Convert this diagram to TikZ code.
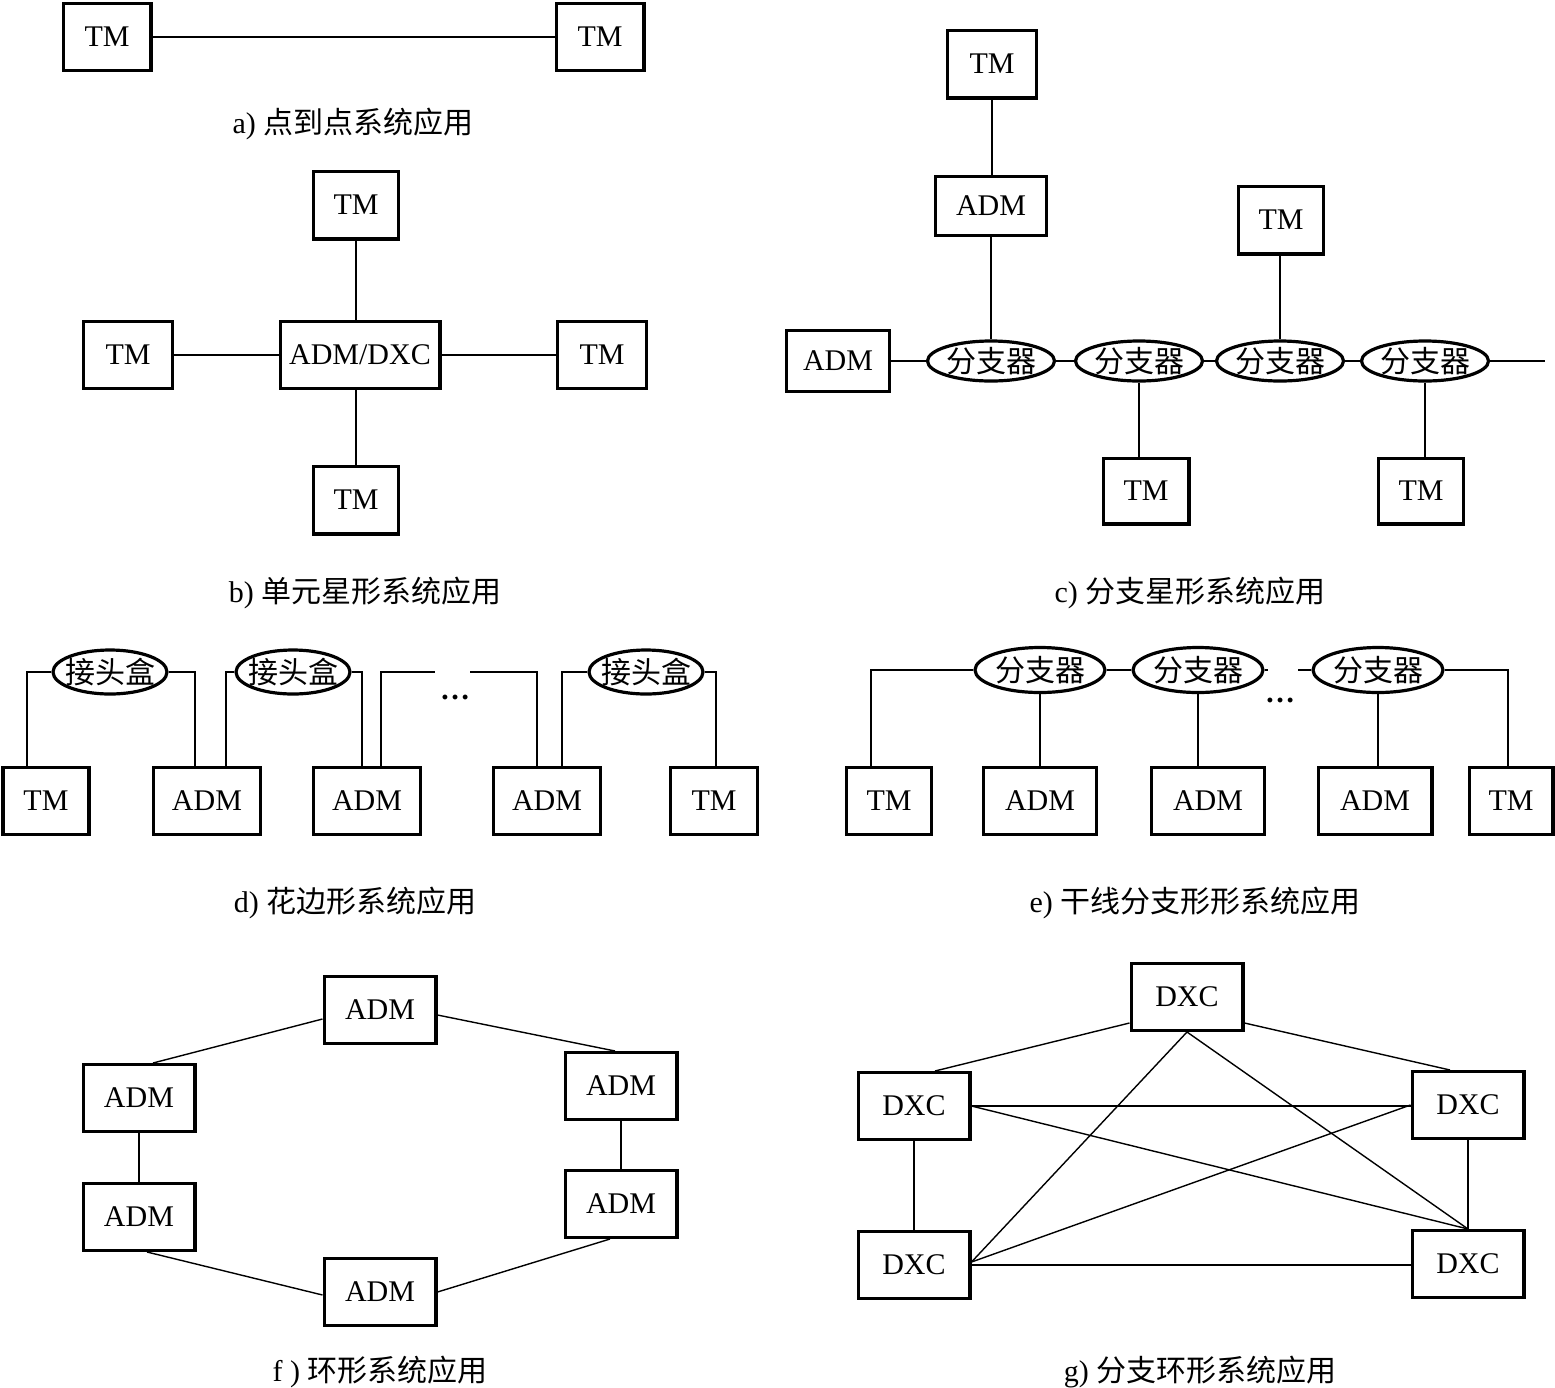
\documentclass[tikz,border=0pt]{standalone}
\usepackage{fontspec}
\setmainfont{Liberation Serif}
\newfontfamily\cjk{Noto Sans CJK SC}
\usetikzlibrary{shapes.geometric,calc}
\begin{document}
\begin{tikzpicture}[x=0.5pt,y=-0.5pt,
  box/.style={draw,line width=1.6pt,inner sep=0pt,font=\fontsize{15}{18}\selectfont},
  sz/.style 2 args={minimum width={(#1)*0.5pt-1.6pt},minimum height={(#2)*0.5pt-1.6pt}},
  ln/.style={line width=0.7pt},
  ell/.style={draw,ellipse,line width=1.6pt,inner sep=0pt},
  lab/.style={label={[font=\fontsize{15}{18}\selectfont\cjk,inner sep=0pt]center:#1}},
  captxt/.style={font=\fontsize{15}{18}\selectfont,inner sep=0pt},
  dotsn/.style={font=\fontsize{15}{18}\selectfont,inner sep=0pt}]
\useasboundingbox (0,0) rectangle (1555,1388);

% ---------- a ----------
\node[box,sz={91}{70}] (a1) at (107,37) {TM};
\node[box,sz={91}{70}] (a2) at (600,37) {TM};
\draw[ln] (a1) -- (a2);
\node[captxt] (ca) at (353,124) {a) {\cjk 点到点系统应用}};

% ---------- b ----------
\node[box,sz={88}{71}] (b1) at (356,205) {TM};
\node[box,sz={92}{70}] (b2) at (128,355) {TM};
\node[box,sz={163}{70}] (b3) at (360,355) {ADM/DXC};
\node[box,sz={92}{70}] (b4) at (602,355) {TM};
\node[box,sz={88}{71}] (b5) at (356,500) {TM};
\draw[ln] (b1.south) -- (b1.south |- b3.north);
\draw[ln] (b2.east) -- (b3.west);
\draw[ln] (b3.east) -- (b4.west);
\draw[ln] (b5.north) -- (b5.north |- b3.south);
\node[captxt] (cb) at (365,593) {b) {\cjk 单元星形系统应用}};

% ---------- c ----------
\node[box,sz={92}{71}] (c1) at (992,64) {TM};
\node[box,sz={114}{62}] (c2) at (991,206) {ADM};
\node[box,sz={106}{64}] (c3) at (838,361) {ADM};
\node[ell,minimum width=63.5pt,minimum height=20pt,lab={分支器}] (cs1) at (991,361) {};
\node[ell,minimum width=63.5pt,minimum height=20pt,lab={分支器}] (cs2) at (1139,361) {};
\node[ell,minimum width=63.5pt,minimum height=20pt,lab={分支器}] (cs3) at (1280,361) {};
\node[ell,minimum width=63.5pt,minimum height=20pt,lab={分支器}] (cs4) at (1425,361) {};
\coordinate (cend) at (1545,361);
\node[box,sz={88}{71}] (c4) at (1281,220) {TM};
\node[box,sz={89}{69}] (c5) at (1146,491) {TM};
\node[box,sz={88}{69}] (c6) at (1421,491) {TM};
\draw[ln] (c1.south) -- (c1.south |- c2.north);
\draw[ln] (c2.south) -- (cs1.north);
\draw[ln] (c3.east) -- (cs1.west);
\draw[ln] (cs1.east) -- (cs2.west);
\draw[ln] (cs2.east) -- (cs3.west);
\draw[ln] (cs3.east) -- (cs4.west);
\draw[ln] (cs4.east) -- (cend);
\draw[ln] (cs3.north) -- (cs3.north |- c4.south);
\draw[ln] (cs2.south) -- (cs2.south |- c5.north);
\draw[ln] (cs4.south) -- (cs4.south |- c6.north);
\node[captxt] (cc) at (1190,593) {c) {\cjk 分支星形系统应用}};

% ---------- d ----------
\node[box,sz={89}{70}] (d1) at (46,801) {TM};
\node[box,sz={110}{70}] (d2) at (207,801) {ADM};
\node[box,sz={110}{70}] (d3) at (367,801) {ADM};
\node[box,sz={110}{70}] (d4) at (547,801) {ADM};
\node[box,sz={90}{70}] (d5) at (714,801) {TM};
\node[ell,minimum width=57pt,minimum height=22pt,lab={接头盒}] (dj1) at (110,672) {};
\node[ell,minimum width=57pt,minimum height=22pt,lab={接头盒}] (dj2) at (293,672) {};
\node[ell,minimum width=57pt,minimum height=22pt,lab={接头盒}] (dj3) at (646,672) {};
\coordinate (dg1) at (435,672);
\coordinate (dg2) at (470,672);
\draw[ln] ($(d1.north)+(-19,0)$) |- (dj1.west);
\draw[ln] (dj1.east) -| ($(d2.north)+(-12,0)$);
\draw[ln] ($(d2.north)+(19,0)$) |- (dj2.west);
\draw[ln] (dj2.east) -| ($(d3.north)+(-5,0)$);
\draw[ln] ($(d3.north)+(14,0)$) |- (dg1);
\draw[ln] (dg2) -| ($(d4.north)+(-10,0)$);
\draw[ln] ($(d4.north)+(15,0)$) |- (dj3.west);
\draw[ln] (dj3.east) -| ($(d5.north)+(2,0)$);
\node[dotsn] (dd) at (455,697) {\textbf{…}};
\node[captxt] (cd) at (355,903) {d) {\cjk 花边形系统应用}};

% ---------- e ----------
\node[box,sz={88}{70}] (e1) at (889,801) {TM};
\node[box,sz={116}{70}] (e2) at (1040,801) {ADM};
\node[box,sz={116}{70}] (e3) at (1208,801) {ADM};
\node[box,sz={117}{70}] (e4) at (1375,801) {ADM};
\node[box,sz={87}{70}] (e5) at (1511,801) {TM};
\node[ell,minimum width=65pt,minimum height=22.5pt,lab={分支器}] (es1) at (1040,670) {};
\node[ell,minimum width=65pt,minimum height=22.5pt,lab={分支器}] (es2) at (1198,670) {};
\node[ell,minimum width=65pt,minimum height=22.5pt,lab={分支器}] (es3) at (1378,670) {};
\coordinate (eg1) at (1268,670);
\coordinate (eg2) at (1298,670);
\draw[ln] ($(e1.north)+(-18,0)$) |- (es1.west);
\draw[ln] (es1.east) -- (es2.west);
\draw[ln] (es2.east) -- (eg1);
\draw[ln] (eg2) -- (es3.west);
\draw[ln] (es3.east) -| ($(e5.north)+(-3,0)$);
\draw[ln] (es1.south) -- (es1.south |- e2.north);
\draw[ln] (es2.south) -- (es2.south |- e3.north);
\draw[ln] (es3.south) -- (es3.south |- e4.north);
\node[dotsn] (ed) at (1280,700) {\textbf{…}};
\node[captxt] (ce) at (1195,903) {e) {\cjk 干线分支形形系统应用}};

% ---------- f ----------
\node[box,sz={115}{70}] (f1) at (380,1010) {ADM};
\node[box,sz={115}{70}] (f2) at (139,1098) {ADM};
\node[box,sz={115}{70}] (f3) at (621,1086) {ADM};
\node[box,sz={115}{70}] (f4) at (139,1217) {ADM};
\node[box,sz={115}{70}] (f5) at (621,1204) {ADM};
\node[box,sz={115}{70}] (f6) at (380,1292) {ADM};
\draw[ln] ($(f1.west)+(0,9)$) -- ($(f2.north)+(14,0)$);
\draw[ln] ($(f1.east)+(0,5)$) -- ($(f3.north)+(-6,0)$);
\draw[ln] (f2.south) -- (f4.north);
\draw[ln] (f3.south) -- (f5.north);
\draw[ln] ($(f4.south)+(8,0)$) -- ($(f6.west)+(0,3)$);
\draw[ln] (f6.east) -- ($(f5.south)+(-11,0)$);
\node[captxt] (cf) at (380,1372) {f ) {\cjk 环形系统应用}};

% ---------- g ----------
\node[box,sz={115}{70}] (g1) at (1187,997) {DXC};
\node[box,sz={115}{70}] (g2) at (914,1106) {DXC};
\node[box,sz={115}{70}] (g3) at (1468,1105) {DXC};
\node[box,sz={115}{70}] (g4) at (914,1265) {DXC};
\node[box,sz={115}{70}] (g5) at (1468,1264) {DXC};
\draw[ln] ($(g1.west)+(0,26)$) -- ($(g2.north)+(21,0)$);
\draw[ln] ($(g1.east)+(0,26)$) -- ($(g3.north)+(-18,0)$);
\draw[ln] (g2.east) -- (g2.east -| g3.west);
\draw[ln] (g2.south) -- (g4.north);
\draw[ln] (g3.south) -- (g5.north);
\draw[ln] (g4.east) -- (g4.east -| g5.west);
\draw[ln] (g1.south) -- ($(g4.east)+(0,-3)$);
\draw[ln] (g1.south) -- (g5.north);
\draw[ln] (g2.east) -- (g5.north);
\draw[ln] (g3.west) -- ($(g4.east)+(0,-3)$);
\node[captxt] (cg) at (1200,1372) {g) {\cjk 分支环形系统应用}};
\end{tikzpicture}
\end{document}
